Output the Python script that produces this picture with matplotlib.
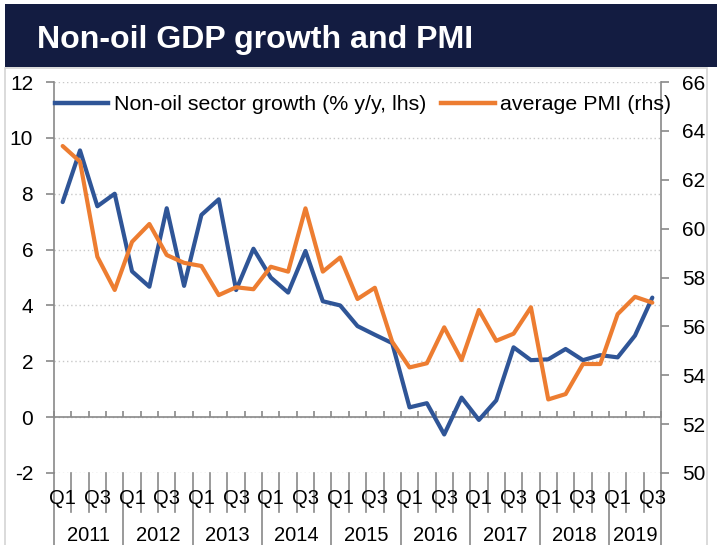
import matplotlib
matplotlib.use("Agg")
import matplotlib.pyplot as plt
from matplotlib.lines import Line2D
from matplotlib.patches import Rectangle
import matplotlib.transforms as mtransforms

plt.rcParams['font.family'] = ['Liberation Sans', 'DejaVu Sans']
plt.rcParams['axes.unicode_minus'] = False

title = "Non-oil GDP growth and PMI"
years = ['2011', '2012', '2013', '2014', '2015', '2016', '2017', '2018', '2019']
quarters = ['Q1', 'Q2', 'Q3', 'Q4']
growth = [7.7, 9.55, 7.55, 8.0, 5.22, 4.67, 7.48, 4.7, 7.24, 7.8, 4.55, 6.03,
          5.0, 4.46, 5.95, 4.15, 4.0, 3.26, 2.95, 2.65, 0.35, 0.5, -0.62, 0.7,
          -0.1, 0.6, 2.5, 2.04, 2.07, 2.44, 2.04, 2.22, 2.14, 2.92, 4.28]
pmi = [63.38, 62.74, 58.85, 57.49, 59.46, 60.19, 58.92, 58.6, 58.47, 57.28,
       57.6, 57.52, 58.44, 58.24, 60.83, 58.24, 58.82, 57.12, 57.58, 55.37,
       54.32, 54.49, 55.96, 54.62, 56.67, 55.41, 55.7, 56.78, 53.01, 53.23,
       54.46, 54.46, 56.5, 57.21, 56.97]
label_growth = "Non-oil sector growth (% y/y, lhs)"
label_pmi = "average PMI (rhs)"

W, H = 717, 545
fig = plt.figure(figsize=(W / 100, H / 100), dpi=100)

def fx(x):
    return x / W

def fy(y):
    return 1 - y / H

NAVY = '#131c41'
BLUE = '#2f5597'
ORANGE = '#ed7d31'
GRAY = '#898989'

# chart border and title bar
fig.patches.append(Rectangle((fx(5), fy(548)), fx(702), 480 / H, transform=fig.transFigure,
                             facecolor='none', edgecolor='#d4d4d4', lw=1.2, zorder=0))
fig.patches.append(Rectangle((fx(5), fy(67)), fx(712), 63 / H, transform=fig.transFigure,
                             facecolor=NAVY, edgecolor='none', zorder=1))
fig.text(fx(37), fy(48), title, color='white', fontsize=23.1, fontweight='bold',
         ha='left', va='baseline')

ax = fig.add_axes([fx(54), fy(473), 607 / W, 391 / H])
n = len(growth)
x = list(range(n))

ax.set_xlim(-0.5, n - 0.5)
ax.set_ylim(-2, 12)
ax.set_yticks(range(-2, 13, 2))
ax.yaxis.grid(True, color='#c8c8c8', linestyle=(0, (1, 2)), lw=1.0)
ax.set_axisbelow(True)
for s in ['top', 'right']:
    ax.spines[s].set_visible(False)
ax.spines['left'].set_color(GRAY)
ax.spines['left'].set_linewidth(1.2)
ax.spines['bottom'].set_position(('data', 0))
ax.spines['bottom'].set_color(GRAY)
ax.spines['bottom'].set_linewidth(1.2)
ax.spines['bottom'].set_zorder(1)
ax.set_xticks([i - 0.5 for i in range(n + 1)])
ax.tick_params(axis='x', direction='in', length=4, width=1.2, color=GRAY, labelbottom=False)
ax.tick_params(axis='y', direction='out', length=6, width=1.2, color=GRAY,
               labelsize=15, pad=9)

ax.plot(x, growth, color=BLUE, lw=3, solid_joinstyle='round', solid_capstyle='round', zorder=3)

ax2 = ax.twinx()
ax2.set_ylim(50, 66)
ax2.set_yticks(range(50, 67, 2))
for s in ['top', 'left', 'bottom']:
    ax2.spines[s].set_visible(False)
ax2.spines['right'].set_color(GRAY)
ax2.spines['right'].set_linewidth(1.2)
ax2.tick_params(axis='y', direction='out', length=6, width=1.2, color=GRAY,
                labelsize=15, pad=9)
ax2.plot(x, pmi, color=ORANGE, lw=3, solid_joinstyle='round', solid_capstyle='round', zorder=3)

# category labels and separators
trans = mtransforms.blended_transform_factory(ax.transData, ax.transAxes)
for i in range(n):
    q = quarters[i % 4]
    if q in ('Q1', 'Q3'):
        ax.text(i, -0.066, q, transform=trans, ha='center', va='center', fontsize=14.5,
                clip_on=False)
for i in range(1, n):
    if i % 4 != 0:
        ax.plot([i - 0.5, i - 0.5], [0, -0.1], transform=trans, color=GRAY, lw=1.2,
                clip_on=False)
bounds = [i - 0.5 for i in range(0, n, 4)] + [n - 0.5]
for b in bounds:
    ax.plot([b, b], [0, -0.2], transform=trans, color=GRAY, lw=1.2, clip_on=False)
for k, yr in enumerate(years):
    lo = bounds[k]
    hi = bounds[k + 1]
    ax.text((lo + hi) / 2, -0.161, yr, transform=trans, ha='center', va='center',
            fontsize=14.5, clip_on=False)

handles = [Line2D([], [], color=BLUE, lw=3.2), Line2D([], [], color=ORANGE, lw=3.2)]
leg = ax2.legend(handles, [label_growth, label_pmi], loc='center left',
                 bbox_to_anchor=(fx(55), fy(105)), bbox_transform=fig.transFigure,
                 ncol=2, frameon=False, fontsize=15.4, handlelength=2.5,
                 handletextpad=0.25, columnspacing=0.7, borderpad=0, borderaxespad=0)

fig.savefig('out.png', dpi=100)
